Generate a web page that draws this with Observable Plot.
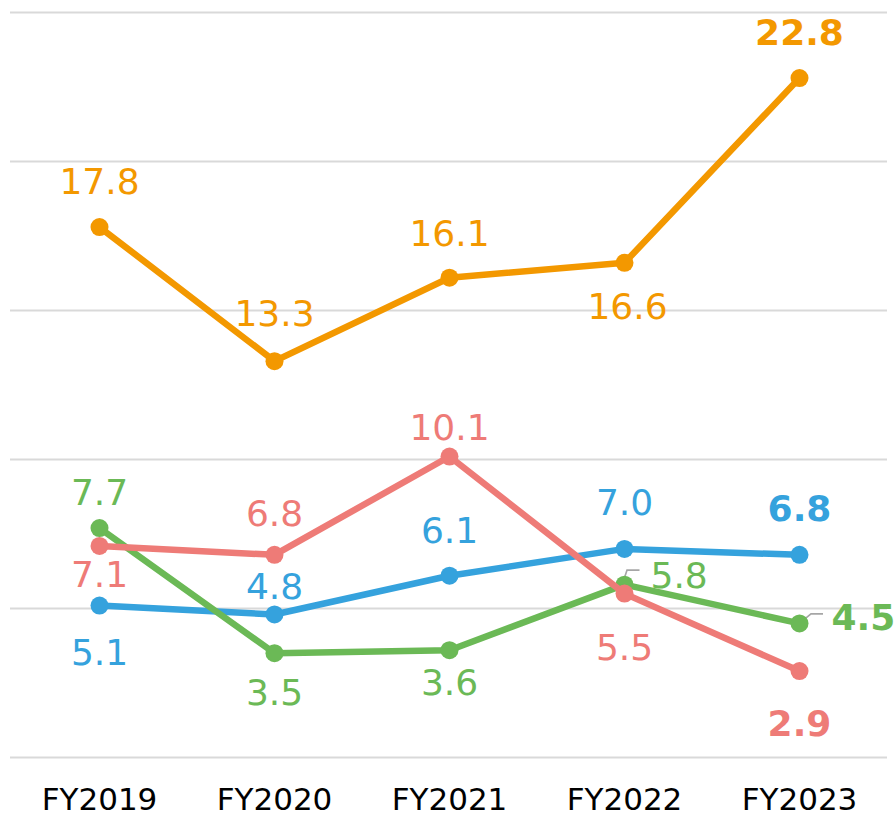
<!DOCTYPE html>
<html><head><meta charset="utf-8">
<script src="https://cdn.jsdelivr.net/npm/d3@7"></script>
<script src="https://cdn.jsdelivr.net/npm/@observablehq/plot@0.6"></script>
<style>html,body{margin:0;padding:0;background:#fff;} #chart svg{display:block}</style>
</head><body><div id="chart"></div>
<script>
// ---- data ----
const years = ["FY2019", "FY2020", "FY2021", "FY2022", "FY2023"];
const orangeValues = [17.8, 13.3, 16.1, 16.6, 22.8];
const blueValues = [5.1, 4.8, 6.1, 7.0, 6.8];
const redValues = [7.1, 6.8, 10.1, 5.5, 2.9];
const greenValues = [7.7, 3.5, 3.6, 5.8, 4.5];
const gridTicks = [0, 5, 10, 15, 20, 25];

// ---- styling / layout ----
const drawOrder = ["blue", "green", "red", "orange"];
const colors = {orange: "#F39800", blue: "#35A2DD", red: "#EE7B77", green: "#6BB956"};
const valuesBySeries = {orange: orangeValues, blue: blueValues, red: redValues, green: greenValues};
// [dx, dy, textAnchor] : pixel offsets from the point to the label baseline
const labelLayout = {
  orange: [[0, -33, "middle"], [0, -35, "middle"], [0, -32, "middle"], [3, 56, "middle"], [0, -33, "middle"]],
  blue:   [[0, 59, "middle"], [0, -15, "middle"], [0, -33, "middle"], [0, -34, "middle"], [0, -34, "middle"]],
  red:    [[0, 41, "middle"], [0, -29, "middle"], [0, -17, "middle"], [0, 66, "middle"], [0, 65, "middle"]],
  green:  [[0, -23, "middle"], [0, 52, "middle"], [0, 45, "middle"], [26, 3, "start"], [32, 7, "start"]]
};
// leader lines (pixel offsets from point) for labels placed to the right
const leaders = [
  {series: "green", year: "FY2022", path: [[0, -5], [3, -14], [15.5, -14]]},
  {series: "green", year: "FY2023", path: [[1, 0], [12, -9], [24, -9]]}
];

const rows = [];
for (const s of drawOrder) {
  valuesBySeries[s].forEach((v, i) => rows.push({series: s, year: years[i], value: v, idx: i}));
}

const marks = [
  Plot.gridY(gridTicks, {stroke: "#d9d9d9", strokeWidth: 2, strokeOpacity: 1}),
  Plot.axisX({tickSize: 0, tickPadding: 30, fontSize: 31, fill: "#000", fontFamily: "DejaVu Sans", label: null})
];

// leader lines through the scales
for (const L of leaders) {
  const v = valuesBySeries[L.series][years.indexOf(L.year)];
  marks.push((index, scales) => {
    const px = scales.x(L.year), py = scales.y(v);
    const d = "M" + L.path.map(([dx, dy]) => (px + dx) + "," + (py + dy)).join("L");
    return d3.create("svg:path")
      .attr("d", d).attr("fill", "none").attr("stroke", "#a6a6a6").attr("stroke-width", 1.6).node();
  });
}

for (const s of drawOrder) {
  const data = rows.filter(r => r.series === s);
  marks.push(Plot.line(data, {x: "year", y: "value", stroke: colors[s], strokeWidth: 6.5, strokeLinejoin: "round"}));
  marks.push(Plot.dot(data, {x: "year", y: "value", r: 9, fill: colors[s]}));
}

for (const r of rows) {
  const [dx, dy, anchor] = labelLayout[r.series][r.idx];
  marks.push(Plot.text([r], {
    x: "year", y: "value", text: d => d.value.toFixed(1),
    dx, dy, textAnchor: anchor, lineAnchor: "bottom",
    fill: colors[r.series], fontSize: 36,
    fontWeight: r.idx === years.length - 1 ? "bold" : "normal",
    fontFamily: "DejaVu Sans"
  }));
}

const chart = Plot.plot({
  width: 896,
  height: 817,
  marginLeft: 10,
  marginRight: 9,
  marginTop: 12,
  marginBottom: 60,
  style: {fontFamily: "DejaVu Sans", background: "#fff", overflow: "visible"},
  x: {type: "point", domain: years, padding: 0.5, axis: null},
  y: {domain: [0, 25], axis: null},
  marks
});
document.getElementById("chart").appendChild(chart);
</script>
</body></html>
